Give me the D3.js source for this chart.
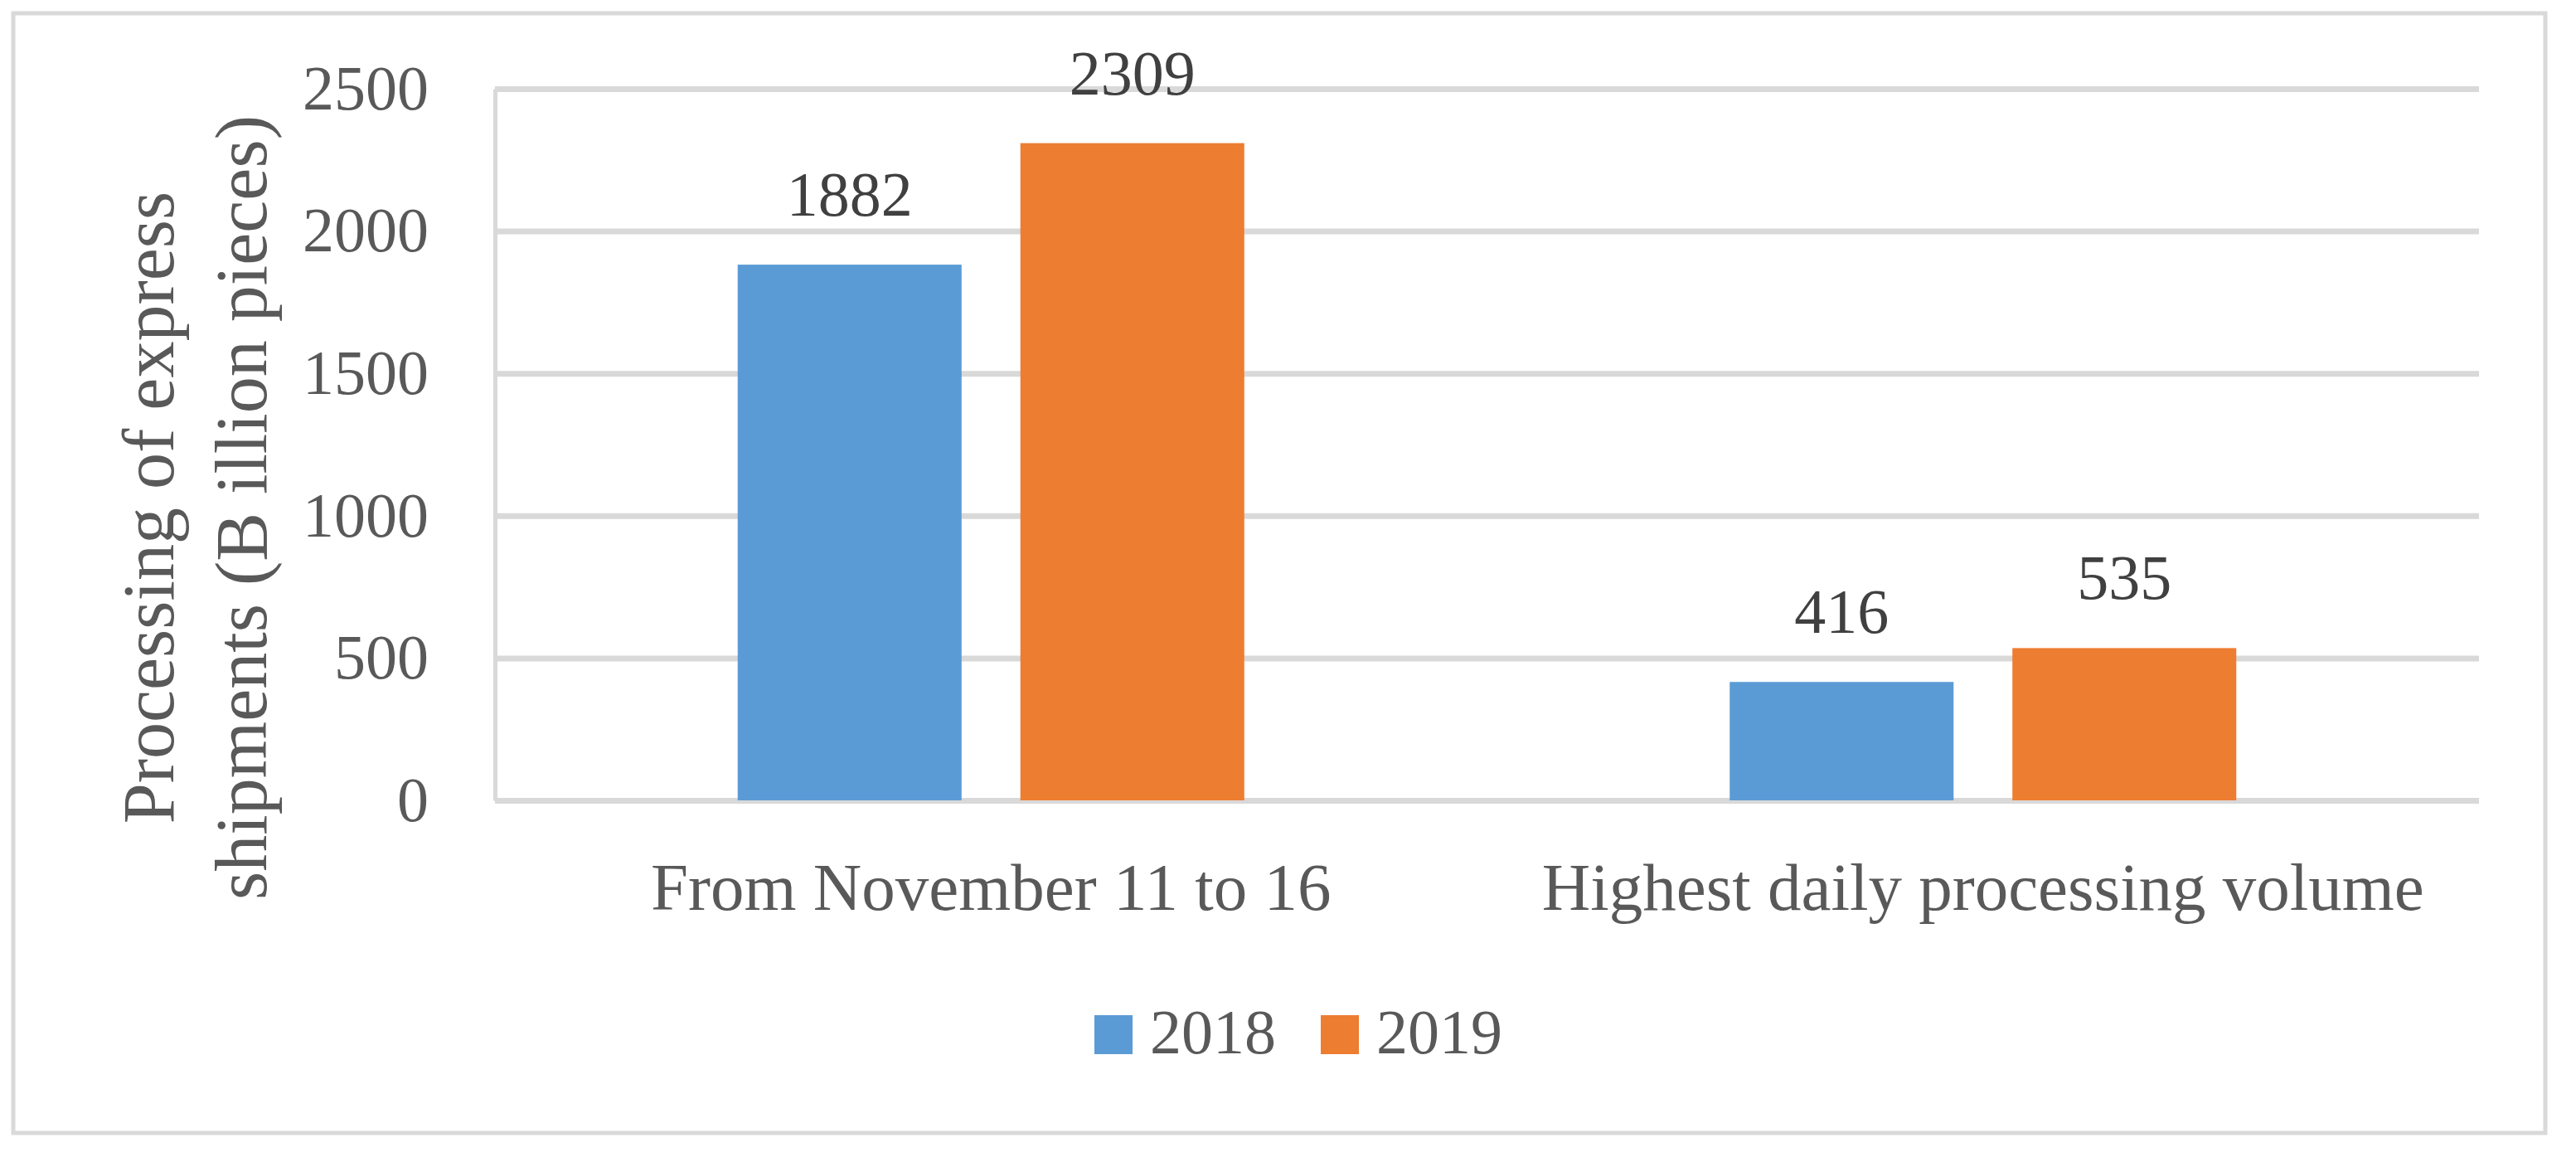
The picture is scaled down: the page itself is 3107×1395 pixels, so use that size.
<!DOCTYPE html>
<html><head><meta charset="utf-8">
<script src="https://cdn.jsdelivr.net/npm/d3@7"></script>
<style>html,body{margin:0;padding:0;background:#fff;} svg{display:block;}</style>
</head><body>
<svg id="chart" width="3107" height="1395"></svg>
<script>
// ---- data ----
const categories = ["From November 11 to 16", "Highest daily processing volume"];
const seriesNames = ["2018", "2019"];
const values2018 = [1882, 416];
const values2019 = [2309, 535];
const yTicks = [0, 500, 1000, 1500, 2000, 2500];
const yTitleLines = ["Processing of express", "shipments (B illion pieces)"];
const seriesColors = ["#5B9BD5", "#ED7D31"];

// ---- layout ----
const FONT = "'Liberation Serif', 'Times New Roman', serif";
const plot = {left: 597, right: 2990, top: 107, bottom: 965};
const svg = d3.select("#chart");

svg.append("rect").attr("x", 16).attr("y", 16).attr("width", 3054).attr("height", 1350)
  .attr("fill", "#fff").attr("stroke", "#d9d9d9").attr("stroke-width", 5);

const y = d3.scaleLinear().domain([0, 2500]).range([plot.bottom, plot.top]);
const x0 = d3.scaleBand().domain(categories).range([plot.left, plot.right]).padding(0);
const groupW = 611;
const x1 = d3.scaleBand().domain(seriesNames)
  .range([x0.bandwidth() / 2 - groupW / 2, x0.bandwidth() / 2 + groupW / 2])
  .paddingInner(0.208).paddingOuter(0);
const color = d3.scaleOrdinal().domain(seriesNames).range(seriesColors);

// y axis with gridlines
const gy = svg.append("g").attr("transform", `translate(${plot.left},0)`)
  .call(d3.axisLeft(y).tickValues(yTicks).tickFormat(d3.format("d"))
    .tickSize(-(plot.right - plot.left)).tickSizeOuter(0).tickPadding(80));
gy.select(".domain").attr("stroke", "#d9d9d9").attr("stroke-width", 5);
gy.selectAll(".tick line").attr("stroke", "#d9d9d9").attr("stroke-width", 7);
gy.selectAll(".tick text").attr("font-family", FONT).attr("font-size", 76)
  .attr("fill", "#595959").attr("dy", "0.32em");

// x axis labels
const gx = svg.append("g").attr("transform", `translate(0,${plot.bottom})`)
  .call(d3.axisBottom(x0).tickSize(0));
gx.select(".domain").remove();
gx.selectAll(".tick text").attr("font-family", FONT).attr("font-size", 81)
  .attr("fill", "#595959").attr("y", 132).attr("dy", 0);

// bars
const rows = categories.map((c, i) => ({cat: c, vals: [
  {s: seriesNames[0], v: values2018[i]},
  {s: seriesNames[1], v: values2019[i]}
]}));
const groups = svg.append("g").selectAll("g").data(rows).join("g")
  .attr("transform", d => `translate(${x0(d.cat)},0)`);
groups.selectAll("rect").data(d => d.vals).join("rect")
  .attr("x", d => x1(d.s)).attr("width", x1.bandwidth())
  .attr("y", d => y(d.v)).attr("height", d => y(0) - y(d.v))
  .attr("fill", d => color(d.s));
groups.selectAll("text").data(d => d.vals).join("text")
  .attr("x", d => x1(d.s) + x1.bandwidth() / 2).attr("y", d => y(d.v) - 59)
  .attr("text-anchor", "middle").attr("font-family", FONT).attr("font-size", 76)
  .attr("fill", "#404040").text(d => d.v);

// y title
const titleX = [209, 321];
yTitleLines.forEach((t, i) => {
  svg.append("text").attr("transform", `translate(${titleX[i]},612) rotate(-90)`)
    .attr("text-anchor", "middle").attr("font-family", FONT).attr("font-size", 88)
    .attr("fill", "#595959").text(t);
});

// legend
const legend = svg.append("g").attr("transform", "translate(1320,1224)");
const li = legend.selectAll("g").data(seriesNames).join("g")
  .attr("transform", (d, i) => `translate(${i * 273},0)`);
li.append("rect").attr("width", 46).attr("height", 47).attr("fill", d => color(d));
li.append("text").attr("x", 67).attr("y", 46).attr("font-family", FONT).attr("font-size", 76)
  .attr("fill", "#595959").text(d => d);
</script>
</body></html>
